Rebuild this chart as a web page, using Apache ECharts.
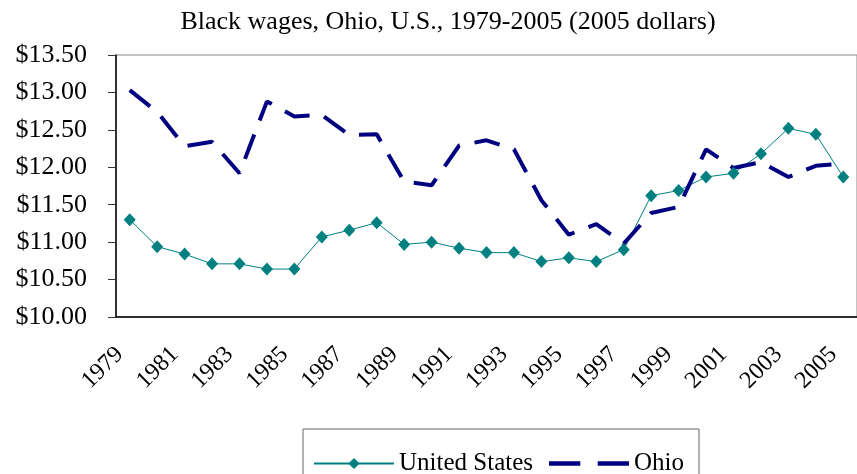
<!DOCTYPE html>
<html>
<head>
<meta charset="utf-8">
<script src="https://cdn.jsdelivr.net/npm/echarts@6/dist/echarts.min.js"></script>
<style>
  html, body { margin: 0; padding: 0; background: #fff; }
  #chart { width: 857px; height: 474px; }
</style>
</head>
<body>
<div id="chart"></div>
<script>
// 年份 (x轴)
var years = ['1979', '1980', '1981', '1982', '1983', '1984', '1985', '1986', '1987',
  '1988', '1989', '1990', '1991', '1992', '1993', '1994', '1995', '1996', '1997',
  '1998', '1999', '2000', '2001', '2002', '2003', '2004', '2005'];

// United States
var usWages = [11.30, 10.94, 10.84, 10.71, 10.71, 10.64, 10.64, 11.07, 11.16,
  11.26, 10.97, 11.00, 10.92, 10.86, 10.86, 10.74, 10.79, 10.74, 10.90,
  11.62, 11.69, 11.87, 11.92, 12.18, 12.52, 12.44, 11.87];

// Ohio
var ohioWages = [13.03, 12.74, 12.28, 12.34, 11.92, 12.88, 12.68, 12.70, 12.43,
  12.44, 11.81, 11.76, 12.29, 12.36, 12.24, 11.56, 11.10, 11.24, 10.98,
  11.39, 11.47, 12.24, 11.99, 12.07, 11.87, 12.02, 12.05];

var serif = '"Liberation Serif", "DejaVu Serif", serif';

var myChart = echarts.init(document.getElementById('chart'));

var option = {
  backgroundColor: '#fff',
  animation: false,
  title: {
    text: 'Black wages, Ohio, U.S., 1979-2005 (2005 dollars)',
    left: 443,
    textAlign: 'center',
    top: 4,
    textStyle: {
      fontFamily: serif,
      fontSize: 26,
      fontWeight: 'normal',
      color: '#000'
    }
  },
  legend: {
    // 虚线图例: 两段短线
    data: ['United States', { name: 'Ohio', icon: 'path://M0,0h27v4h-27zM42,0h27v4h-27z' }],
    left: 303,
    top: 429,
    padding: [22, 15, 30, 10],
    itemWidth: 80,
    itemHeight: 14,
    itemGap: 16,
    borderColor: '#666',
    borderWidth: 1,
    textStyle: {
      fontFamily: serif,
      fontSize: 25,
      color: '#000'
    }
  },
  grid: {
    left: 116,
    top: 55,
    width: 747,
    height: 262,
    show: true,
    borderColor: '#888',
    borderWidth: 1
  },
  xAxis: {
    type: 'category',
    data: years,
    boundaryGap: true,
    axisLine: { lineStyle: { color: '#000', width: 1.5 } },
    axisTick: { interval: 0, length: 8, lineStyle: { color: '#555' } },
    axisLabel: {
      interval: 1,
      rotate: 45,
      margin: 24,
      formatter: function (v) { return '{y|' + v + '}'; },
      rich: {
        y: {
          padding: [0, 14, 0, 0],
          fontFamily: serif,
          fontSize: 24,
          color: '#000'
        }
      }
    }
  },
  yAxis: {
    type: 'value',
    min: 10,
    max: 13.5,
    interval: 0.5,
    splitLine: { show: false },
    axisLine: { show: true, lineStyle: { color: '#000', width: 1.5 } },
    axisTick: { show: true, length: 8, lineStyle: { color: '#333' } },
    axisLabel: {
      margin: 29,
      fontFamily: serif,
      fontSize: 26,
      color: '#000',
      formatter: function (v) { return '$' + v.toFixed(2); }
    }
  },
  series: [
    {
      name: 'United States',
      type: 'line',
      data: usWages,
      symbol: 'diamond',
      symbolSize: [12, 13],
      itemStyle: { color: '#008080' },
      lineStyle: { color: '#008080', width: 1 }
    },
    {
      name: 'Ohio',
      type: 'line',
      data: ohioWages,
      symbol: 'none',
      itemStyle: { color: '#000080' },
      lineStyle: { color: '#000080', width: 4, type: [26, 15], cap: 'butt' }
    }
  ]
};

myChart.setOption(option);
window.onresize = myChart.resize;
</script>
</body>
</html>
